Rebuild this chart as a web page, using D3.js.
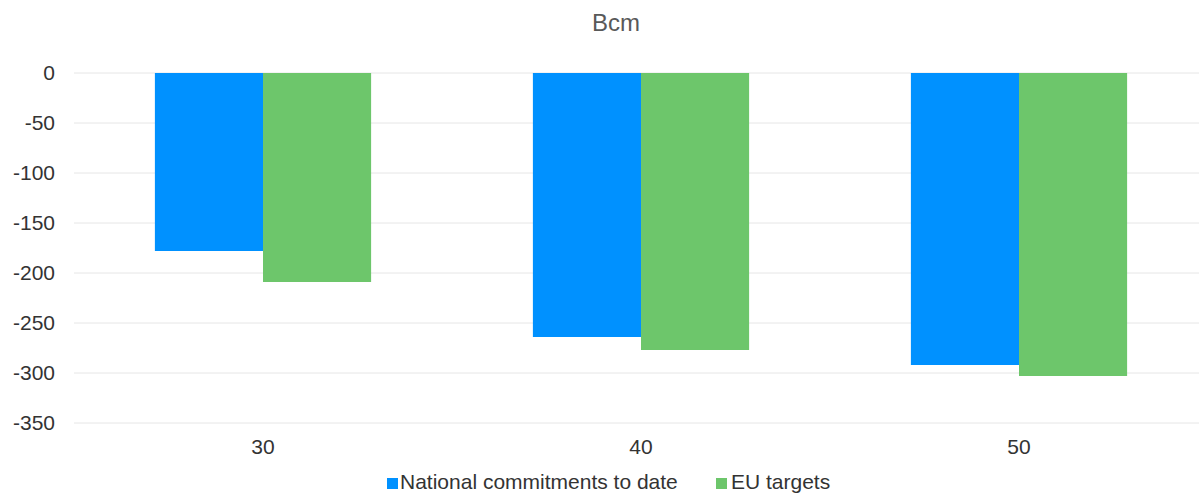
<!DOCTYPE html>
<html>
<head>
<meta charset="utf-8">
<script src="https://cdn.jsdelivr.net/npm/d3@7"></script>
<style>
  body { margin: 0; background: #fff; }
  text { font-family: "Liberation Sans", Arial, sans-serif; }
</style>
</head>
<body>
<div id="chart"></div>
<script>
const categories = ["30", "40", "50"];
const seriesNames = ["National commitments to date", "EU targets"];
const national = [-178, -264, -292];
const euTargets = [-209, -277, -303];
const yTicks = [0, -50, -100, -150, -200, -250, -300, -350];
const colors = ["#0091ff", "#6dc66b"];

const W = 1199, H = 493;
const margin = {top: 73, right: -9, bottom: 70, left: 74};
const width = W - margin.left - margin.right,
      height = H - margin.top - margin.bottom;

const svg = d3.select("#chart")
    .append("svg")
    .attr("width", W)
    .attr("height", H)
    .append("g")
    .attr("transform", `translate(${margin.left},${margin.top})`);

const x = d3.scaleBand()
    .domain(categories)
    .range([0, width]);

const x1 = d3.scaleBand()
    .domain([0, 1])
    .range([x.bandwidth() * 0.214, x.bandwidth() * 0.786]);

const y = d3.scaleLinear()
    .domain([-350, 0])
    .range([height, 0]);

// gridlines
svg.append("g")
    .selectAll("line")
    .data(yTicks)
    .join("line")
    .attr("x1", 0)
    .attr("x2", width)
    .attr("y1", d => y(d))
    .attr("y2", d => y(d))
    .attr("stroke", "#e6e6e6")
    .attr("stroke-width", 1);

// y axis labels (plain hyphen for minus)
svg.append("g")
    .call(d3.axisLeft(y).tickValues(yTicks).tickSize(0).tickPadding(19)
        .tickFormat(d => String(d)))
    .call(g => g.select(".domain").remove())
    .selectAll("text")
    .attr("font-size", 21)
    .attr("fill", "#333");

// bars
const data = categories.map((c, i) => ({cat: c, vals: [national[i], euTargets[i]]}));
svg.append("g")
    .selectAll("g")
    .data(data)
    .join("g")
    .attr("transform", d => `translate(${x(d.cat)},0)`)
    .selectAll("rect")
    .data(d => d.vals.map((v, j) => ({j, v})))
    .join("rect")
    .attr("x", d => x1(d.j))
    .attr("width", x1.bandwidth())
    .attr("y", y(0))
    .attr("height", d => y(d.v) - y(0))
    .attr("fill", d => colors[d.j]);

// x axis labels
svg.append("g")
    .attr("transform", `translate(0,${height})`)
    .call(d3.axisBottom(x).tickSize(0).tickPadding(16))
    .call(g => g.select(".domain").remove())
    .selectAll("text")
    .attr("font-size", 21)
    .attr("fill", "#333");

// title
svg.append("text")
    .attr("x", 616 - margin.left)
    .attr("y", 31 - margin.top)
    .attr("text-anchor", "middle")
    .attr("font-size", 24)
    .attr("fill", "#595959")
    .text("Bcm");

// legend
const legendX = [387, 716];
const legendTextX = [400, 731];
const legend = svg.append("g")
    .attr("transform", `translate(${-margin.left},${489 - margin.top})`);
seriesNames.forEach((name, i) => {
    legend.append("rect")
        .attr("x", legendX[i])
        .attr("y", -11)
        .attr("width", 11)
        .attr("height", 11)
        .attr("fill", colors[i]);
    legend.append("text")
        .attr("x", legendTextX[i])
        .attr("y", 0)
        .attr("font-size", 21)
        .attr("fill", "#333")
        .text(name);
});
</script>
</body>
</html>
